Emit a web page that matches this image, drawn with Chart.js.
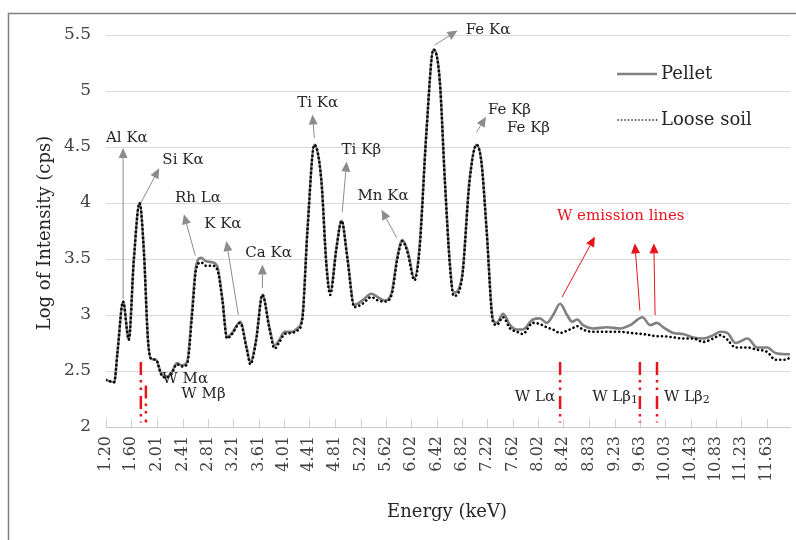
<!DOCTYPE html>
<html>
<head>
<meta charset="utf-8">
<script src="https://cdn.jsdelivr.net/npm/chart.js@4.4.1/dist/chart.umd.min.js"></script>
<style>
  html, body { margin: 0; padding: 0; background: #fff; }
  #wrap { width: 796px; height: 540px; }
</style>
</head>
<body>
<div id="wrap"><canvas id="myChart"></canvas></div>
<script>
/* XRF spectrum, pellet vs loose soil */
const energy = [1.20, 1.33, 1.38, 1.47, 1.56, 1.64, 1.73, 1.80, 1.86, 1.91, 1.99, 2.07, 2.15, 2.23, 2.32, 2.40, 2.48,
  2.56, 2.62, 2.70, 2.78, 2.88, 2.96, 3.04, 3.11, 3.19, 3.32, 3.42, 3.48, 3.57, 3.67, 3.78, 3.86, 3.94, 4.02, 4.13,
  4.22, 4.30, 4.38, 4.49, 4.60, 4.68, 4.74, 4.84, 4.92, 5.01, 5.12, 5.25, 5.39, 5.49, 5.60, 5.71, 5.80, 5.88, 5.96,
  6.07, 6.15, 6.26, 6.37, 6.47, 6.55, 6.63, 6.69, 6.82, 6.94, 7.05, 7.13, 7.21, 7.31, 7.37, 7.47, 7.58, 7.69, 7.78,
  7.94, 8.05, 8.16, 8.26, 8.37, 8.48, 8.56, 8.64, 8.73, 8.89, 9.11, 9.32, 9.48, 9.67, 9.79, 9.90, 10.00, 10.16,
  10.31, 10.47, 10.63, 10.79, 10.90, 11.01, 11.14, 11.33, 11.48, 11.64, 11.77, 11.93, 12.00];
const pellet = [2.42, 2.40, 2.66, 3.12, 2.78, 3.50, 4.00, 3.55, 2.80, 2.61, 2.60, 2.48, 2.45, 2.48, 2.57, 2.55, 2.58,
  3.05, 3.43, 3.51, 3.48, 3.47, 3.43, 3.13, 2.80, 2.84, 2.94, 2.71, 2.58, 2.78, 3.18, 2.89, 2.73, 2.78, 2.85, 2.85,
  2.88, 2.98, 3.76, 4.52, 4.21, 3.46, 3.21, 3.61, 3.84, 3.52, 3.09, 3.13, 3.19, 3.16, 3.13, 3.20, 3.52, 3.67, 3.58,
  3.33, 3.61, 4.65, 5.37, 5.10, 4.21, 3.46, 3.20, 3.34, 4.21, 4.52, 4.36, 3.76, 2.96, 2.93, 3.01, 2.91, 2.87, 2.87,
  2.96, 2.97, 2.93, 3.00, 3.10, 3.00, 2.94, 2.96, 2.91, 2.88, 2.89, 2.88, 2.91, 2.98, 2.91, 2.93, 2.89, 2.84,
  2.83, 2.80, 2.79, 2.82, 2.85, 2.84, 2.75, 2.79, 2.71, 2.71, 2.66, 2.65, 2.65];
const looseSoil = [2.42, 2.40, 2.66, 3.12, 2.78, 3.50, 4.00, 3.55, 2.80, 2.61, 2.60, 2.47, 2.44, 2.47, 2.56, 2.54, 2.56,
  3.00, 3.40, 3.47, 3.44, 3.44, 3.40, 3.12, 2.79, 2.83, 2.93, 2.70, 2.56, 2.77, 3.18, 2.88, 2.70, 2.76, 2.83, 2.84,
  2.86, 2.96, 3.74, 4.52, 4.20, 3.44, 3.18, 3.60, 3.84, 3.51, 3.07, 3.10, 3.16, 3.13, 3.12, 3.18, 3.50, 3.66, 3.56,
  3.31, 3.58, 4.63, 5.37, 5.09, 4.20, 3.44, 3.17, 3.32, 4.19, 4.52, 4.35, 3.75, 2.94, 2.91, 2.98, 2.88, 2.85, 2.83,
  2.93, 2.92, 2.89, 2.87, 2.84, 2.86, 2.88, 2.90, 2.87, 2.85, 2.85, 2.85, 2.84, 2.83, 2.82, 2.81, 2.81, 2.80,
  2.79, 2.79, 2.76, 2.79, 2.82, 2.78, 2.71, 2.71, 2.69, 2.67, 2.60, 2.60, 2.62];

const tickLabels = ["1.20", "1.60", "2.01", "2.41", "2.81", "3.21", "3.61", "4.01", "4.41", "4.81", "5.22", "5.62",
  "6.02", "6.42", "6.82", "7.22", "7.62", "8.02", "8.42", "8.83", "9.23", "9.63", "10.03", "10.43", "10.83",
  "11.23", "11.63"];

// W emission line energies (red dash-dot markers)
const wLines = [1.75, 1.83, 8.37, 9.63, 9.90];

const SERIF = "'DejaVu Serif', serif";
const GREY = "#8c8c8c";
const RED = "#e8141c";

// labels: text position [energy, log value], arrow [from, to]
const peakNotes = [
  { text: "Al K\u03b1", at: [1.20, 4.58], arrow: [[1.47, 3.14], [1.47, 4.49]] },
  { text: "Si K\u03b1", at: [2.09, 4.38], arrow: [[1.75, 4.00], [2.04, 4.31]] },
  { text: "Rh L\u03b1", at: [2.29, 4.04], arrow: [[2.61, 3.53], [2.43, 3.90]] },
  { text: "K K\u03b1", at: [2.75, 3.81], arrow: [[3.29, 3.00], [3.10, 3.66]] },
  { text: "Ca K\u03b1", at: [3.40, 3.55], arrow: [[3.67, 3.24], [3.67, 3.45]] },
  { text: "Ti K\u03b1", at: [4.22, 4.89], arrow: [[4.49, 4.58], [4.46, 4.79]] },
  { text: "Ti K\u03b2", at: [4.92, 4.47], arrow: [[4.93, 3.92], [5.00, 4.37]] },
  { text: "Mn K\u03b1", at: [5.17, 4.06], arrow: [[5.79, 3.69], [5.55, 3.94]] },
  { text: "Fe K\u03b1", at: [6.88, 5.54], arrow: [[6.39, 5.41], [6.75, 5.54]] },
  { text: "Fe K\u03b2", at: [7.23, 4.83], arrow: [[7.05, 4.63], [7.20, 4.77]] },
  { text: "Fe K\u03b2", at: [7.53, 4.67], arrow: null }
];
const wArrows = [
  [[8.40, 3.16], [8.92, 3.70]],
  [[9.63, 3.04], [9.55, 3.64]],
  [[9.87, 3.00], [9.85, 3.64]]
];

function arrow(ctx, x1, y1, x2, y2, color) {
  const a = Math.atan2(y2 - y1, x2 - x1);
  const len = 10, half = 4.5;
  const bx = x2 - len * Math.cos(a), by = y2 - len * Math.sin(a);
  ctx.strokeStyle = color;
  ctx.fillStyle = color;
  ctx.lineWidth = 1;
  ctx.setLineDash([]);
  ctx.beginPath();
  ctx.moveTo(x1, y1);
  ctx.lineTo(bx, by);
  ctx.stroke();
  ctx.beginPath();
  ctx.moveTo(x2, y2);
  ctx.lineTo(bx + half * Math.sin(a), by - half * Math.cos(a));
  ctx.lineTo(bx - half * Math.sin(a), by + half * Math.cos(a));
  ctx.closePath();
  ctx.fill();
}

const decor = {
  id: "decor",
  afterDatasetsDraw(chart) {
    const ctx = chart.ctx;
    const xs = chart.scales.x, ys = chart.scales.y;
    const X = v => xs.getPixelForValue(v), Y = v => ys.getPixelForValue(v);
    const area = chart.chartArea;
    ctx.save();

    // tick marks inside the plot
    ctx.strokeStyle = "#d0d0d0";
    ctx.lineWidth = 1;
    tickLabels.forEach(t => {
      const px = Math.round(X(parseFloat(t))) + 0.5;
      ctx.beginPath();
      ctx.moveTo(px, area.bottom);
      ctx.lineTo(px, area.bottom - 8);
      ctx.stroke();
    });

    // W emission line markers
    ctx.strokeStyle = RED;
    ctx.lineWidth = 2.5;
    wLines.forEach((e, i) => {
      ctx.setLineDash([13, 5, 2.5, 5, 2.5, 6]);
      ctx.beginPath();
      ctx.moveTo(X(e), i === 1 ? Y(2.37) : Y(2.58));
      ctx.lineTo(X(e), Y(2.04));
      ctx.stroke();
    });
    ctx.setLineDash([]);

    // peak labels
    ctx.font = "15px " + SERIF;
    ctx.textBaseline = "middle";
    ctx.textAlign = "left";
    peakNotes.forEach(n => {
      if (n.arrow) arrow(ctx, X(n.arrow[0][0]), Y(n.arrow[0][1]), X(n.arrow[1][0]), Y(n.arrow[1][1]), GREY);
      ctx.fillStyle = "#262626";
      ctx.fillText(n.text, X(n.at[0]), Y(n.at[1]));
    });

    // W annotations
    wArrows.forEach(a => arrow(ctx, X(a[0][0]), Y(a[0][1]), X(a[1][0]), Y(a[1][1]), RED));
    ctx.fillStyle = RED;
    ctx.fillText("W emission lines", X(8.32), Y(3.88));

    ctx.fillStyle = "#262626";
    ctx.fillText("W M\u03b1", X(2.09), Y(2.43));
    ctx.fillText("W M\u03b2", X(2.39), Y(2.29));
    ctx.textAlign = "right";
    ctx.fillText("W L\u03b1", X(8.29), Y(2.27));
    ctx.font = "11px " + SERIF;
    ctx.fillText("1", X(9.60), Y(2.24));
    const w1 = ctx.measureText("1").width;
    ctx.font = "15px " + SERIF;
    ctx.fillText("W L\u03b2", X(9.60) - w1, Y(2.27));
    ctx.textAlign = "left";
    ctx.fillText("W L\u03b2", X(10.01), Y(2.27));
    const w2 = ctx.measureText("W L\u03b2").width;
    ctx.font = "11px " + SERIF;
    ctx.fillText("2", X(10.01) + w2, Y(2.24));

    // legend
    ctx.font = "18px " + SERIF;
    ctx.strokeStyle = "#808080";
    ctx.lineWidth = 2.5;
    ctx.beginPath();
    ctx.moveTo(617, 74);
    ctx.lineTo(657, 74);
    ctx.stroke();
    ctx.strokeStyle = "#000";
    ctx.lineWidth = 1.6;
    ctx.lineCap = "round";
    ctx.setLineDash([0.1, 3.4]);
    ctx.beginPath();
    ctx.moveTo(618, 120);
    ctx.lineTo(657, 120);
    ctx.stroke();
    ctx.setLineDash([]);
    ctx.lineCap = "butt";
    ctx.fillStyle = "#262626";
    ctx.fillText("Pellet", 661, 74);
    ctx.fillText("Loose soil", 661, 120);

    // axis titles
    ctx.font = "18px " + SERIF;
    ctx.fillStyle = "#262626";
    ctx.textAlign = "center";
    ctx.fillText("Energy (keV)", 447, 512);
    ctx.translate(45, 233);
    ctx.rotate(-Math.PI / 2);
    ctx.fillText("Log of Intensity (cps)", 0, 0);
    ctx.restore();

    // outer frame (top and left edges)
    ctx.save();
    ctx.strokeStyle = "#7f7f7f";
    ctx.lineWidth = 1.5;
    ctx.beginPath();
    ctx.moveTo(8.5, 540);
    ctx.lineTo(8.5, 13.5);
    ctx.lineTo(796, 13.5);
    ctx.stroke();
    ctx.restore();
  }
};

const config = {
  type: "line",
  data: {
    datasets: [
      {
        label: "Pellet",
        data: energy.map((e, i) => ({ x: e, y: pellet[i] })),
        borderColor: "#808080",
        borderWidth: 2.6,
        pointRadius: 0,
        cubicInterpolationMode: "monotone",
        order: 2
      },
      {
        label: "Loose soil",
        data: energy.map((e, i) => ({ x: e, y: looseSoil[i] })),
        borderColor: "#000000",
        borderWidth: 2.6,
        borderDash: [0.1, 4.2],
        borderCapStyle: "round",
        pointRadius: 0,
        cubicInterpolationMode: "monotone",
        order: 1
      }
    ]
  },
  options: {
    responsive: true,
    maintainAspectRatio: false,
    animation: false,
    layout: { padding: { left: 8, right: 6, top: 35, bottom: 0 } },
    plugins: { legend: { display: false }, tooltip: { enabled: false } },
    scales: {
      x: {
        type: "linear",
        min: 1.2,
        max: 12.0,
        afterBuildTicks: axis => { axis.ticks = tickLabels.map(t => ({ value: parseFloat(t) })); },
        afterFit: axis => { axis.height = 113; },
        grid: { display: false, drawTicks: false },
        border: { display: true, color: "#c8c8c8", width: 1 },
        ticks: {
          autoSkip: false,
          minRotation: 90,
          maxRotation: 90,
          padding: 9,
          color: "#404040",
          font: { family: SERIF, size: 16 },
          callback: (v, i) => tickLabels[i]
        }
      },
      y: {
        min: 2,
        max: 5.5,
        afterFit: axis => { axis.width = 98; },
        grid: { color: "#d9d9d9", lineWidth: 1, drawTicks: false },
        border: { display: false },
        ticks: {
          stepSize: 0.5,
          padding: 15,
          color: "#404040",
          font: { family: SERIF, size: 17 },
          callback: v => String(Math.round(v * 10) / 10)
        }
      }
    }
  },
  plugins: [decor]
};

var myChart = new Chart(document.getElementById("myChart"), config);
</script>
</body>
</html>
